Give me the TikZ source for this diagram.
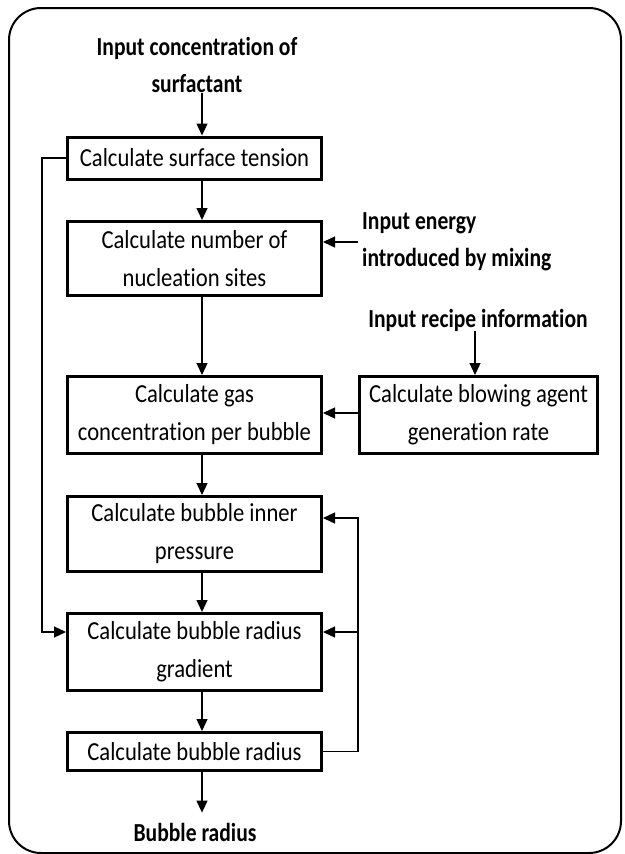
\documentclass[tikz,border=0pt]{standalone}
\usepackage{fontspec}
\setmainfont{Carlito}[FakeStretch=0.87, Ligatures=NoCommon, BoldFeatures={FakeStretch=0.83}]
\usepackage{tikz}
\usetikzlibrary{arrows.meta, calc}

\begin{document}
\begin{tikzpicture}[x=1pt, y=-1pt,
    every node/.style={font=\fontsize{26}{38}\selectfont},
    calcbox/.style={draw, line width=3pt, minimum width=254pt, align=center, inner sep=0pt},
    inputtext/.style={font=\fontsize{26}{37}\selectfont\bfseries, align=center, inner sep=0pt},
    flow/.style={-{Triangle[length=12pt, width=11pt]}, line width=1.3pt}]

  \useasboundingbox (0, 0) rectangle (624, 854);
  \draw[line width=2pt, rounded corners=32pt] (9, 8) rectangle (621, 853);

  % main column
  \node[inputtext] (conc) at (197, 65) {Input concentration of\\surfactant};
  \node[calcbox, minimum height=42pt] (tension) at (194.5, 158) {Calculate surface tension};
  \node[calcbox, minimum height=74pt] (sites) at (194.5, 258.5) {Calculate number of\\nucleation sites};
  \node[calcbox, minimum height=77pt] (gas) at (194.5, 415) {Calculate gas\\concentration per bubble};
  \node[calcbox, minimum height=75pt] (pressure) at (194.5, 534) {Calculate bubble inner\\pressure};
  \node[calcbox, minimum height=77pt] (gradient) at (194.5, 652) {Calculate bubble radius\\gradient};
  \node[calcbox, minimum height=38pt] (radius) at (194.5, 751.5) {Calculate bubble radius};
  \node[inputtext] (result) at (195, 832) {Bubble radius};

  % side inputs
  \node[inputtext, align=left, anchor=west] (energy) at (362, 242) {Input energy\\introduced by mixing};
  \node[inputtext] (recipe) at (478, 320) {Input recipe information};
  \node[calcbox, minimum width=238pt, minimum height=77pt] (blowing) at (478.5, 415) {Calculate blowing agent\\generation rate};

  \coordinate (spine) at (202, 0);
  \draw[flow] (spine |- conc.south) -- (spine |- tension.north);
  \draw[flow] (spine |- tension.south) -- (spine |- sites.north);
  \draw[flow] (spine |- sites.south) -- (spine |- gas.north);
  \draw[flow] (spine |- gas.south) -- (spine |- pressure.north);
  \draw[flow] (spine |- pressure.south) -- (spine |- gradient.north);
  \draw[flow] (spine |- gradient.south) -- (spine |- radius.north);
  \draw[flow] (spine |- radius.south) -- ([yshift=10pt]spine |- result.north);

  \draw[flow] ([xshift=-4pt]energy.west) -- (energy.west -| sites.east);
  \draw[flow] ([xshift=-3pt]recipe.south) -- ([xshift=-3pt]recipe.south |- blowing.north);
  \draw[flow] ([yshift=2pt]blowing.west) -- ([yshift=2pt]gas.east);

  % feedback loops
  \coordinate (gradin) at ([yshift=20pt]gradient.west);
  \draw[flow] (tension.west) -- ++(-24, 0) |- (gradin);
  \coordinate (presin) at ([yshift=16pt]pressure.east);
  \draw[flow] (radius.east) -- ++(35, 0) coordinate (back) |- (presin);
  \draw[flow] (back |- gradin) -- ([yshift=20pt]gradient.east);

\end{tikzpicture}
\end{document}
